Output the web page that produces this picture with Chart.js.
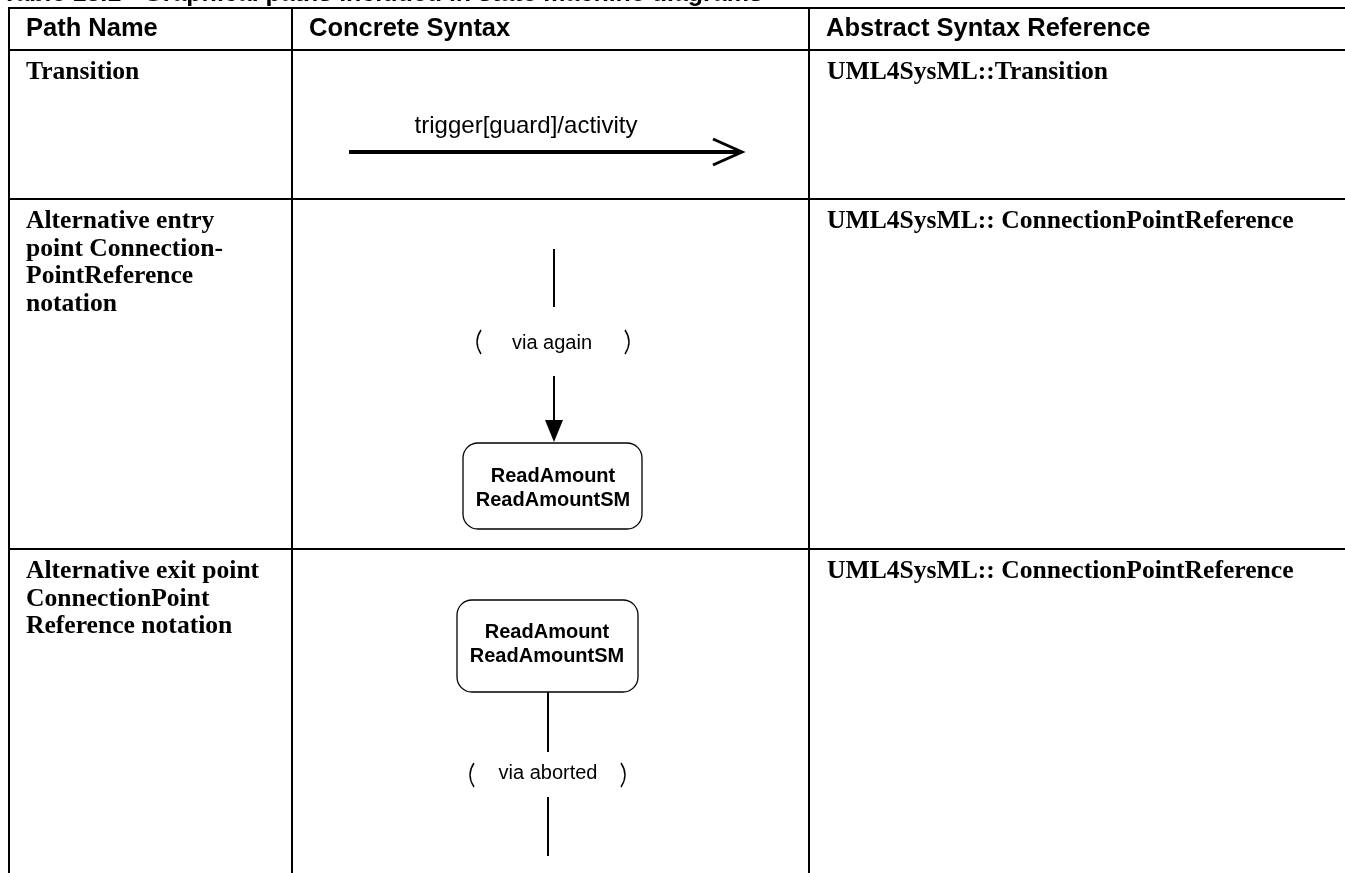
<!DOCTYPE html>
<html>
<head>
<meta charset="utf-8">
<script src="https://cdn.jsdelivr.net/npm/chart.js@4.4.1/dist/chart.umd.min.js"></script>
<style>
  html, body { margin: 0; padding: 0; background: #ffffff; overflow: hidden; }
  #wrap { position: relative; width: 1345px; height: 873px; }
</style>
</head>
<body>
<div id="wrap"><canvas id="c" width="1345" height="873"></canvas></div>
<script>
// ---------- content ----------
const TITLE = "Table 13.1 - Graphical paths included in state machine diagrams";
const HEADERS = ["Path Name", "Concrete Syntax", "Abstract Syntax Reference"];
const PATH_NAMES = [
  ["Transition"],
  ["Alternative entry", "point Connection-", "PointReference", "notation"],
  ["Alternative exit point", "ConnectionPoint", "Reference notation"]
];
const ABSTRACT_REFS = [
  "UML4SysML::Transition",
  "UML4SysML:: ConnectionPointReference",
  "UML4SysML:: ConnectionPointReference"
];
const TRANSITION_LABEL = "trigger[guard]/activity";
const ENTRY_LABEL = "via again";
const EXIT_LABEL = "via aborted";
const STATE_LINES = ["ReadAmount", "ReadAmountSM"];

// ---------- table grid (page units) ----------
const COL_EDGES = [9, 292, 809, 1345];
const ROW_EDGES = [8, 50, 199, 549, 873];

// ---------- diagram geometry (page units) ----------
const TRANSITION_SHAFT = [[349, 152], [740, 152]];
const TRANSITION_HEAD = [[713, 139], [742, 152], [713, 165]];
const ENTRY_LINE_TOP = [[554, 249], [554, 307]];
const ENTRY_LINE_BOTTOM = [[554, 376], [554, 424]];
const ENTRY_HEAD = [[545, 420], [563, 420], [554, 442]];
const ENTRY_BOX = [463, 443, 642, 529];      // x1, y1, x2, y2
const ENTRY_PARENS = [478, 628, 342];         // left x, right x, centre y
const ENTRY_LABEL_POS = [552, 349];
const ENTRY_STATE_POS = [553, 482];
const EXIT_BOX = [457, 600, 638, 692];
const EXIT_LINE_TOP = [[548, 692], [548, 752]];
const EXIT_LINE_BOTTOM = [[548, 797], [548, 856]];
const EXIT_PARENS = [471, 624, 775];
const EXIT_LABEL_POS = [548, 779];
const EXIT_STATE_POS = [547, 638];
const TRANSITION_LABEL_POS = [526, 133];

// ---------- build line datasets ----------
function seg(points, width) {
  return {
    type: 'scatter',
    data: points.map(p => ({ x: p[0], y: p[1] })),
    showLine: true,
    borderColor: '#000000',
    backgroundColor: '#000000',
    borderWidth: width,
    pointRadius: 0,
    pointHoverRadius: 0,
    fill: false,
    tension: 0,
    borderCapStyle: 'butt',
    borderJoinStyle: 'miter'
  };
}
const datasets = [];
// horizontal rules
ROW_EDGES.slice(0, 4).forEach(y => datasets.push(seg([[COL_EDGES[0] - 1, y], [COL_EDGES[3], y]], 2)));
// vertical rules
COL_EDGES.slice(0, 3).forEach(x => datasets.push(seg([[x, ROW_EDGES[0] - 1], [x, ROW_EDGES[4]]], 2)));
// diagrams
datasets.push(seg(TRANSITION_SHAFT, 4));
datasets.push(seg(TRANSITION_HEAD, 3));
datasets.push(seg(ENTRY_LINE_TOP, 2));
datasets.push(seg(ENTRY_LINE_BOTTOM, 2));
datasets.push(seg(EXIT_LINE_TOP, 2));
datasets.push(seg(EXIT_LINE_BOTTOM, 2));

// ---------- plugin: text & shapes through the scales ----------
const tablePlugin = {
  id: 'tablePlugin',
  afterDatasetsDraw(chart) {
    const ctx = chart.ctx;
    const xs = chart.scales.x, ys = chart.scales.y;
    const X = v => xs.getPixelForValue(v);
    const Y = v => ys.getPixelForValue(v);
    ctx.save();
    ctx.fillStyle = '#000';
    ctx.strokeStyle = '#000';
    ctx.textBaseline = 'alphabetic';

    // title (cut off at top)
    ctx.font = 'bold 25px "Liberation Sans", Arial, sans-serif';
    ctx.textAlign = 'left';
    ctx.fillText(TITLE, X(2), Y(1));

    // headers
    ctx.font = 'bold 25.5px "Liberation Sans", Arial, sans-serif';
    HEADERS.forEach((h, i) => ctx.fillText(h, X(COL_EDGES[i] + 17), Y(36)));

    // body text
    ctx.font = 'bold 25.6px "Liberation Serif", "Times New Roman", serif';
    PATH_NAMES.forEach((lines, r) => {
      lines.forEach((t, k) => ctx.fillText(t, X(COL_EDGES[0] + 17), Y(ROW_EDGES[r + 1] + 29 + k * 27.5)));
    });
    ABSTRACT_REFS.forEach((t, r) => ctx.fillText(t, X(COL_EDGES[2] + 18), Y(ROW_EDGES[r + 1] + 29)));

    // transition label
    ctx.textAlign = 'center';
    ctx.font = '24px "Liberation Sans", Arial, sans-serif';
    ctx.fillText(TRANSITION_LABEL, X(TRANSITION_LABEL_POS[0]), Y(TRANSITION_LABEL_POS[1]));

    // filled arrowhead
    ctx.beginPath();
    ENTRY_HEAD.forEach((p, i) => i ? ctx.lineTo(X(p[0]), Y(p[1])) : ctx.moveTo(X(p[0]), Y(p[1])));
    ctx.closePath();
    ctx.fill();

    // state boxes
    function box(b, pos) {
      ctx.lineWidth = 1.3;
      ctx.beginPath();
      ctx.roundRect(X(b[0]), Y(b[1]), X(b[2]) - X(b[0]), Y(b[3]) - Y(b[1]), 15);
      ctx.stroke();
      ctx.font = 'bold 20px "Liberation Sans", Arial, sans-serif';
      ctx.textAlign = 'center';
      ctx.fillText(STATE_LINES[0], X(pos[0]), Y(pos[1]));
      ctx.fillText(STATE_LINES[1], X(pos[0]), Y(pos[1] + 24));
    }
    box(ENTRY_BOX, ENTRY_STATE_POS);
    box(EXIT_BOX, EXIT_STATE_POS);

    // parentheses
    function parens(p) {
      ctx.lineWidth = 1.4;
      const h = 12;
      ctx.beginPath();
      ctx.moveTo(X(p[0] + 3), Y(p[2] - h));
      ctx.quadraticCurveTo(X(p[0] - 5), Y(p[2]), X(p[0] + 3), Y(p[2] + h));
      ctx.stroke();
      ctx.beginPath();
      ctx.moveTo(X(p[1] - 3), Y(p[2] - h));
      ctx.quadraticCurveTo(X(p[1] + 5), Y(p[2]), X(p[1] - 3), Y(p[2] + h));
      ctx.stroke();
    }
    parens(ENTRY_PARENS);
    parens(EXIT_PARENS);

    // connection point labels
    ctx.font = '20px "Liberation Sans", Arial, sans-serif';
    ctx.textAlign = 'center';
    ctx.fillText(ENTRY_LABEL, X(ENTRY_LABEL_POS[0]), Y(ENTRY_LABEL_POS[1]));
    ctx.fillText(EXIT_LABEL, X(EXIT_LABEL_POS[0]), Y(EXIT_LABEL_POS[1]));

    ctx.restore();
  }
};

new Chart(document.getElementById('c'), {
  type: 'scatter',
  data: { datasets },
  options: {
    responsive: false,
    devicePixelRatio: 1,
    animation: false,
    events: [],
    layout: { padding: 0 },
    plugins: { legend: { display: false }, tooltip: { enabled: false }, title: { display: false } },
    scales: {
      x: { type: 'linear', min: 0, max: 1345, display: false },
      y: { type: 'linear', min: 0, max: 873, reverse: true, display: false }
    }
  },
  plugins: [tablePlugin]
});
</script>
</body>
</html>
